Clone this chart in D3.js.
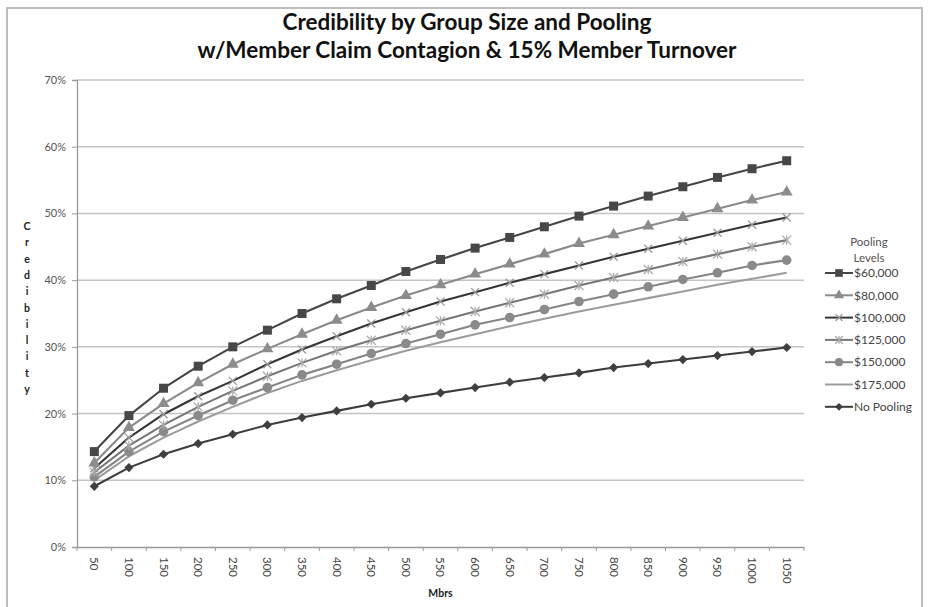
<!DOCTYPE html>
<html>
<head>
<meta charset="utf-8">
<script src="https://cdn.jsdelivr.net/npm/d3@7"></script>
<style>
  html, body { margin: 0; padding: 0; background: #fff; }
  svg { display: block; }
</style>
</head>
<body>
<svg id="chart" width="929" height="607"></svg>
<script>
// ---------------- DATA ----------------
const titleLines = ["Credibility by Group Size and Pooling", "w/Member Claim Contagion & 15% Member Turnover"];
const categories = ["50","100","150","200","250","300","350","400","450","500","550","600","650","700","750","800","850","900","950","1000","1050"];
const yTicks = [0, 0.1, 0.2, 0.3, 0.4, 0.5, 0.6, 0.7];
const seriesNames = ["$60,000", "$80,000", "$100,000", "$125,000", "$150,000", "$175,000", "No Pooling"];
const pool60k  = [14.3,19.7,23.8,27.1,30.0,32.5,35.0,37.2,39.2,41.3,43.1,44.8,46.4,48.0,49.6,51.1,52.6,54.0,55.4,56.7,57.9];
const pool80k  = [12.6,17.9,21.5,24.6,27.4,29.7,31.9,34.0,35.9,37.7,39.3,40.9,42.4,43.9,45.5,46.8,48.1,49.4,50.7,52.0,53.2];
const pool100k = [11.8,16.4,19.9,22.6,24.9,27.4,29.6,31.6,33.5,35.2,36.8,38.2,39.6,40.9,42.2,43.5,44.7,45.9,47.1,48.3,49.4];
const pool125k = [11.2,15.2,18.3,21.0,23.4,25.6,27.6,29.4,31.0,32.5,33.9,35.3,36.6,37.9,39.2,40.4,41.6,42.8,43.9,45.0,46.0];
const pool150k = [10.5,14.3,17.3,19.7,22.0,23.9,25.8,27.4,29.0,30.5,31.9,33.3,34.4,35.6,36.8,37.9,39.0,40.1,41.1,42.2,43.0];
const pool175k = [10.0,13.6,16.4,18.8,21.0,23.1,24.9,26.5,28.0,29.4,30.7,31.9,33.1,34.2,35.3,36.3,37.3,38.3,39.3,40.2,41.1];
const noPool   = [9.1,11.9,13.9,15.5,16.9,18.3,19.4,20.4,21.4,22.3,23.1,23.9,24.7,25.4,26.1,26.9,27.5,28.1,28.7,29.3,29.9];
const seriesValues = [pool60k, pool80k, pool100k, pool125k, pool150k, pool175k, noPool];
const xTitle = "Mbrs";
const yTitle = "Credibility";
const legendTitle = ["Pooling", "Levels"];

// ---------------- STYLE ----------------
const styles = [
  { line: "#454545", marker: "square",   fill: "#474747", stroke: "none" },
  { line: "#8a8a8a", marker: "triangle", fill: "#8c8c8c", stroke: "none" },
  { line: "#353535", marker: "x",        fill: "none",    stroke: "#9a9a9a" },
  { line: "#767676", marker: "asterisk", fill: "none",    stroke: "#ababab" },
  { line: "#858585", marker: "circle",   fill: "#8a8a8a", stroke: "none" },
  { line: "#9c9c9c", marker: "none",     fill: "none",    stroke: "none" },
  { line: "#3c3c3c", marker: "diamond",  fill: "#3f3f3f", stroke: "none" }
];
const font = "Lato, 'Open Sans', 'Liberation Sans', sans-serif";

const svg = d3.select("#chart");
const W = 929, H = 607;
const margin = { left: 77, right: 125, top: 80, bottom: 60 };

// frame
svg.append("rect").attr("x", 7).attr("y", 8).attr("width", 915).attr("height", 610)
  .attr("fill", "#fff").attr("stroke", "#bdbdbd").attr("stroke-width", 2);

const x = d3.scaleBand().domain(categories).range([margin.left, W - margin.right]).padding(0);
const y = d3.scaleLinear().domain([0, 0.7]).range([H - margin.bottom, margin.top]);

// title
svg.append("g").selectAll("text").data(titleLines).join("text")
  .attr("x", 467).attr("y", (d, i) => 30 + i * 28)
  .attr("text-anchor", "middle")
  .attr("font-family", font).attr("font-weight", "bold").attr("font-size", 22.5)
  .attr("fill", "#111").text(d => d);

// gridlines
svg.append("g").selectAll("line").data(yTicks.filter(d => d > 0)).join("line")
  .attr("x1", x.range()[0]).attr("x2", x.range()[1])
  .attr("y1", d => y(d)).attr("y2", d => y(d))
  .attr("stroke", "#c4c4c4").attr("stroke-width", 1.5);

// y axis
const yAxis = svg.append("g").attr("transform", `translate(${x.range()[0]},0)`)
  .call(d3.axisLeft(y).tickValues(yTicks).tickFormat(d3.format(".0%")).tickSize(5).tickPadding(6));
yAxis.select(".domain").attr("stroke", "#9a9a9a").attr("stroke-width", 1.3);
yAxis.selectAll(".tick line").attr("stroke", "#9a9a9a");
yAxis.selectAll("text").attr("font-family", font).attr("font-size", 11).attr("fill", "#555");

// x axis
const xAxis = svg.append("g").attr("transform", `translate(0,${y(0)})`)
  .call(d3.axisBottom(x).tickSize(0).tickPadding(0));
xAxis.select(".domain").attr("stroke", "#9a9a9a").attr("stroke-width", 1.3);
xAxis.selectAll(".tick text")
  .attr("transform", "translate(0,10) rotate(90)")
  .attr("text-anchor", "start").attr("dy", "0.35em").attr("x", 0).attr("y", 0)
  .attr("font-family", font).attr("font-size", 11.5).attr("fill", "#444");
const boundaries = categories.map(c => x(c)).concat([x.range()[1]]);
svg.append("g").selectAll("line").data(boundaries).join("line")
  .attr("x1", d => d).attr("x2", d => d)
  .attr("y1", y(0)).attr("y2", y(0) + 4)
  .attr("stroke", "#9a9a9a");

// axis titles
svg.append("text").attr("x", (x.range()[0] + x.range()[1]) / 2).attr("y", 597)
  .attr("text-anchor", "middle").attr("font-family", font).attr("font-weight", "bold")
  .attr("font-size", 10.5).attr("fill", "#222").text(xTitle);
svg.append("g").selectAll("text").data(yTitle.split("")).join("text")
  .attr("x", 27).attr("y", (d, i) => 230 + i * 16.3)
  .attr("text-anchor", "middle").attr("font-family", font).attr("font-weight", "bold")
  .attr("font-size", 10.5).attr("fill", "#222").text(d => d);

// marker drawing
function drawMarker(g, type, st, scale) {
  const s = scale || 1;
  if (type === "square") {
    g.append("rect").attr("x", -4.5 * s).attr("y", -4.5 * s).attr("width", 9 * s).attr("height", 9 * s).attr("fill", st.fill);
  } else if (type === "triangle") {
    g.append("path").attr("d", d3.symbol(d3.symbolTriangle, 62 * s * s)()).attr("fill", st.fill);
  } else if (type === "circle") {
    g.append("circle").attr("r", 4.8 * s).attr("fill", st.fill);
  } else if (type === "diamond") {
    const r = 4.6 * s;
    g.append("path").attr("d", `M0,${-r}L${r},0L0,${r}L${-r},0Z`).attr("fill", st.fill);
  } else if (type === "x") {
    const r = 4 * s;
    g.append("path").attr("d", `M${-r},${-r}L${r},${r}M${-r},${r}L${r},${-r}`)
      .attr("stroke", st.stroke).attr("stroke-width", 1.3).attr("fill", "none");
  } else if (type === "asterisk") {
    const r = 4.5 * s;
    g.append("path").attr("d", `M${-r},${-r}L${r},${r}M${-r},${r}L${r},${-r}M0,${-r}L0,${r}`)
      .attr("stroke", st.stroke).attr("stroke-width", 1.3).attr("fill", "none");
  }
}

// series
const line = d3.line().x((d, i) => x(categories[i]) + x.bandwidth() / 2).y(d => y(d / 100));
const seriesG = svg.append("g");
for (let k = seriesValues.length - 1; k >= 0; k--) {
  const st = styles[k];
  const g = seriesG.append("g");
  g.append("path").attr("d", line(seriesValues[k])).attr("fill", "none")
    .attr("stroke", st.line).attr("stroke-width", 2.1).attr("stroke-linejoin", "round");
  seriesValues[k].forEach((v, i) => {
    const mg = g.append("g").attr("transform", `translate(${x(categories[i]) + x.bandwidth() / 2},${y(v / 100)})`);
    drawMarker(mg, st.marker, st);
  });
}

// legend
const lg = svg.append("g");
lg.selectAll("text.lt").data(legendTitle).join("text").attr("class", "lt")
  .attr("x", 869).attr("y", (d, i) => 246 + i * 16)
  .attr("text-anchor", "middle").attr("font-family", font).attr("font-size", 11.5)
  .attr("fill", "#555").text(d => d);
seriesNames.forEach((name, k) => {
  const yy = 273 + k * 22.3;
  const st = styles[k];
  const e = lg.append("g").attr("transform", `translate(839,${yy})`);
  e.append("line").attr("x1", -14).attr("x2", 14).attr("stroke", st.line).attr("stroke-width", 2);
  drawMarker(e, st.marker, st, 0.85);
  e.append("text").attr("x", 15).attr("y", 0).attr("dy", "0.35em")
    .attr("font-family", font).attr("font-size", 12).attr("fill", "#444").text(name);
});
</script>
</body>
</html>
